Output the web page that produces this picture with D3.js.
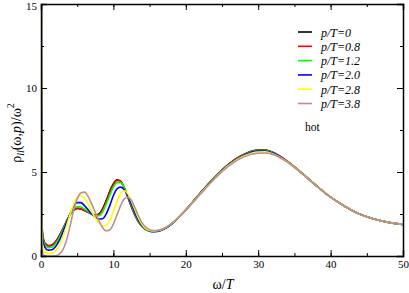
<!DOCTYPE html>
<html>
<head>
<meta charset="utf-8">
<script src="https://cdn.jsdelivr.net/npm/d3@7"></script>
<style>
  body { margin: 0; background: #fff; }
  svg { display: block; }
  svg text { font-family: "Liberation Serif", "Times New Roman", "DejaVu Serif", serif; }
  .line { fill: none; stroke-width: 1.6; }
</style>
</head>
<body>
<svg></svg>
<script>
var omega = [0.02, 0.05, 0.1, 0.2, 0.4, 0.7, 1, 1.5, 2, 2.5, 3, 3.5, 4, 4.5, 5, 5.5, 6, 6.5, 7, 7.5, 8, 8.5, 9, 9.5, 10, 10.5, 11, 11.5, 12, 12.5, 13, 13.5, 14, 14.5, 15, 15.5, 16, 17, 18, 19, 20, 21, 22, 24, 26, 28, 30, 31, 32, 34, 36, 38, 40, 42, 44, 46, 48, 50];

var p0 = [60, 12, 3.5, 1.4, 0.9, 0.7, 0.62, 0.66, 0.85, 1.18, 1.6, 2.05, 2.45, 2.72, 2.83, 2.8, 2.7, 2.6, 2.5, 2.44, 2.5, 2.8, 3.3, 3.85, 4.3, 4.53, 4.45, 4.05, 3.5, 2.9, 2.4, 2.0, 1.74, 1.58, 1.5, 1.47, 1.48, 1.62, 1.9, 2.3, 2.75, 3.25, 3.75, 4.7, 5.5, 6.05, 6.3, 6.3, 6.17, 5.65, 4.95, 4.2, 3.5, 2.95, 2.5, 2.2, 2.0, 1.88];
var p08 = [60, 12, 3.4, 1.35, 0.87, 0.67, 0.6, 0.63, 0.82, 1.15, 1.58, 2.03, 2.45, 2.74, 2.86, 2.82, 2.72, 2.6, 2.5, 2.44, 2.47, 2.75, 3.22, 3.78, 4.25, 4.5, 4.45, 4.07, 3.53, 2.95, 2.43, 2.02, 1.75, 1.58, 1.5, 1.47, 1.48, 1.62, 1.9, 2.3, 2.75, 3.24, 3.74, 4.69, 5.49, 6.04, 6.29, 6.29, 6.16, 5.64, 4.95, 4.2, 3.5, 2.95, 2.5, 2.2, 2.0, 1.88];
var p12 = [60, 11, 3.2, 1.25, 0.8, 0.57, 0.5, 0.52, 0.72, 1.07, 1.52, 2.0, 2.45, 2.8, 2.95, 2.92, 2.8, 2.65, 2.5, 2.4, 2.4, 2.62, 3.08, 3.62, 4.1, 4.37, 4.38, 4.08, 3.58, 3.0, 2.48, 2.05, 1.76, 1.58, 1.49, 1.46, 1.46, 1.61, 1.89, 2.29, 2.74, 3.23, 3.73, 4.68, 5.47, 6.02, 6.28, 6.28, 6.15, 5.63, 4.94, 4.2, 3.5, 2.95, 2.5, 2.2, 2.0, 1.88];
var p20 = [60, 10, 2.9, 1.05, 0.65, 0.42, 0.35, 0.37, 0.55, 0.9, 1.4, 1.95, 2.5, 2.95, 3.18, 3.18, 3.0, 2.75, 2.5, 2.3, 2.2, 2.22, 2.5, 3.0, 3.6, 4.0, 4.1, 3.95, 3.58, 3.08, 2.55, 2.1, 1.78, 1.58, 1.48, 1.45, 1.46, 1.61, 1.89, 2.29, 2.74, 3.22, 3.72, 4.66, 5.45, 6.0, 6.25, 6.25, 6.13, 5.62, 4.93, 4.19, 3.5, 2.95, 2.5, 2.2, 2.0, 1.88];
var p28 = [50, 8, 2.2, 0.7, 0.35, 0.18, 0.15, 0.17, 0.3, 0.6, 1.1, 1.75, 2.45, 3.08, 3.48, 3.6, 3.45, 3.1, 2.65, 2.25, 1.95, 1.8, 1.82, 2.1, 2.65, 3.25, 3.72, 3.88, 3.7, 3.25, 2.72, 2.22, 1.85, 1.62, 1.52, 1.49, 1.5, 1.64, 1.91, 2.3, 2.74, 3.21, 3.7, 4.63, 5.42, 5.95, 6.19, 6.2, 6.09, 5.61, 4.93, 4.19, 3.5, 2.95, 2.5, 2.2, 2.0, 1.88];
var p38 = [40, 6, 1.2, 0.25, 0.03, 0, 0, 0, 0.02, 0.1, 0.35, 0.9, 1.75, 2.7, 3.4, 3.75, 3.8, 3.55, 3.1, 2.6, 2.1, 1.7, 1.5, 1.55, 1.9, 2.45, 3.0, 3.4, 3.5, 3.3, 2.85, 2.35, 1.95, 1.7, 1.57, 1.52, 1.52, 1.65, 1.92, 2.3, 2.73, 3.2, 3.68, 4.6, 5.38, 5.9, 6.12, 6.13, 6.05, 5.6, 4.92, 4.18, 3.5, 2.95, 2.5, 2.2, 2.0, 1.88];

var seriesNames = ["p/T=0", "p/T=0.8", "p/T=1.2", "p/T=2.0", "p/T=2.8", "p/T=3.8"];
var seriesValues = [p0, p08, p12, p20, p28, p38];
var seriesColors = ["#000000", "#ff0000", "#00ff00", "#0000ff", "#ffff00", "#bc8f8f"];
var xTicks = [0, 10, 20, 30, 40, 50];
var yTicks = [0, 5, 10, 15];

var W = 409, H = 293;
var m = {left: 41, right: 6, top: 4, bottom: 37};
var iw = W - m.left - m.right, ih = H - m.top - m.bottom;
var serif = '"Liberation Serif", "Times New Roman", "DejaVu Serif", serif';

var svg = d3.select('svg').attr('width', W).attr('height', H);

var x = d3.scaleLinear().domain([0, 50]).range([m.left, m.left + iw]);
var y = d3.scaleLinear().domain([0, 15]).range([m.top + ih, m.top]);

svg.append('clipPath').attr('id', 'clip')
  .append('rect').attr('x', m.left).attr('y', m.top).attr('width', iw).attr('height', ih);

var line = d3.line()
  .x(function(d) { return x(d[0]); })
  .y(function(d) { return y(d[1]); })
  .curve(d3.curveMonotoneX);

var g = svg.append('g').attr('clip-path', 'url(#clip)');
seriesValues.forEach(function(vals, i) {
  g.append('path').attr('class', 'line')
    .attr('stroke', seriesColors[i])
    .attr('d', line(omega.map(function(w, k) { return [w, vals[k]]; })));
});

// axes: ticks point inward on all four sides
var minorX = d3.range(0, 51, 5), minorY = d3.range(0, 15.1, 2.5);
function axisSet(axisFn, scale, ticks, minor, tr) {
  svg.append('g').attr('transform', tr)
    .call(axisFn(scale).tickValues(minor).tickSize(-3).tickFormat(''))
    .call(function(a) { a.select('.domain').remove(); });
  return svg.append('g').attr('transform', tr)
    .call(axisFn(scale).tickValues(ticks).tickSize(-6).tickPadding(4).tickFormat(d3.format('d')));
}
var xa = axisSet(d3.axisBottom, x, xTicks, minorX, 'translate(0,' + (m.top + ih) + ')');
var xt = axisSet(d3.axisTop, x, xTicks, minorX, 'translate(0,' + m.top + ')');
var ya = axisSet(d3.axisLeft, y, yTicks, minorY, 'translate(' + m.left + ',0)');
var yr = axisSet(d3.axisRight, y, yTicks, minorY, 'translate(' + (m.left + iw) + ',0)');
xt.selectAll('text').remove();
yr.selectAll('text').remove();
svg.selectAll('g').attr('font-family', serif);
svg.selectAll('.tick line').attr('stroke', '#000').attr('stroke-width', 1);
svg.selectAll('.domain').attr('stroke', '#000').attr('stroke-width', 1.5);
svg.selectAll('.tick text').attr('font-family', serif).attr('font-size', 11).attr('fill', '#000');
// keep the top label inside the window
ya.selectAll('.tick text').filter(function(d) { return d === 15; }).attr('dy', '0.5em');

// x label
var xl = svg.append('text').attr('x', 223).attr('y', 289).attr('text-anchor', 'middle')
  .attr('font-size', 14);
xl.append('tspan').text('ω/');
xl.append('tspan').attr('font-style', 'italic').text('T');

// y label
var yl = svg.append('text').attr('transform', 'translate(21,133) rotate(-90)')
  .attr('text-anchor', 'middle').attr('font-size', 14);
yl.append('tspan').text('ρ');
yl.append('tspan').attr('font-style', 'italic').attr('font-size', 10).attr('dy', 3).text('ll');
yl.append('tspan').attr('dy', -3).text('(ω,');
yl.append('tspan').attr('font-style', 'italic').text('p');
yl.append('tspan').text(')/ω');
yl.append('tspan').attr('font-size', 10).attr('dy', -7).text('2');

// legend
var leg = svg.append('g');
seriesNames.forEach(function(name, i) {
  var ly = 32 + i * 14.3;
  leg.append('line').attr('x1', 298).attr('x2', 312).attr('y1', ly).attr('y2', ly)
    .attr('stroke', seriesColors[i]).attr('stroke-width', 1.6);
  leg.append('text').attr('x', 321).attr('y', ly + 4.5)
    .attr('font-size', 12).attr('font-style', 'italic').text(name);
});
leg.append('text').attr('x', 305).attr('y', 131).attr('font-size', 11.5).text('hot');
</script>
</body>
</html>
